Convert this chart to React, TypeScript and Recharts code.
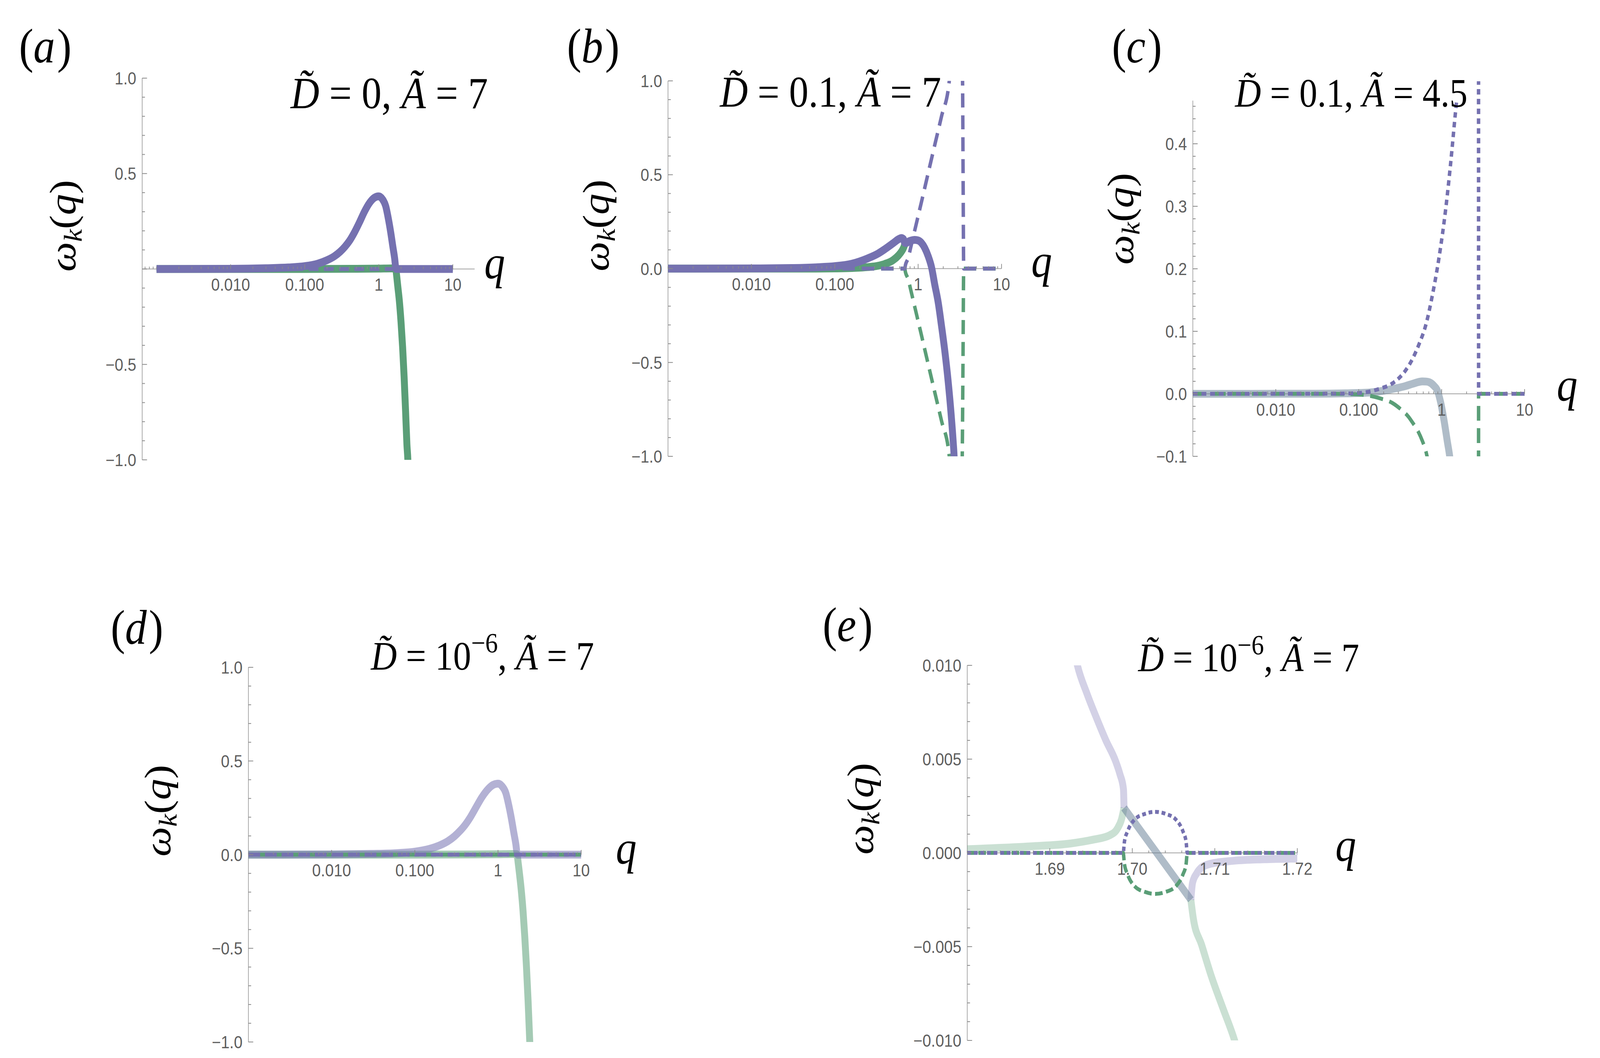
import React from "react";
import { ComposedChart, Line, XAxis, YAxis, ReferenceLine } from "recharts";

/* ---------------------------------------------------------------- */
/*  Data: [q, omega] pairs                       */
/* ---------------------------------------------------------------- */

type Row = [number, number | null];

// (a) D = 0, A = 7
const A_RE_UPPER: Row[] = [
  [0.001, 0], [0.01, 0.001], [0.03, 0.004], [0.06, 0.008], [0.1, 0.015], [0.15, 0.028],
  [0.2, 0.046], [0.25, 0.066], [0.3, 0.09], [0.35, 0.117], [0.4, 0.146], [0.47, 0.192],
  [0.55, 0.245], [0.64, 0.3], [0.75, 0.346], [0.87, 0.373], [1.0, 0.381], [1.12, 0.366],
  [1.24, 0.33], [1.35, 0.262], [1.45, 0.192], [1.55, 0.117], [1.64, 0.055], [1.7, 0.004],
  [1.73, 0], [2, 0], [5, 0], [10, 0],
];
const A_RE_LOWER: Row[] = [
  [0.001, 0], [0.1, 0], [0.5, 0.001], [1.0, 0.002], [1.5, 0.003], [1.69, 0.002],
  [1.71, -0.008], [1.75, -0.04], [1.8, -0.085], [1.9, -0.17], [2.0, -0.28], [2.1, -0.41],
  [2.2, -0.565], [2.3, -0.74], [2.4, -0.92], [2.47, -1.0], [2.55, -1.2],
];
const A_IM_UPPER: Row[] = [[0.001, 0], [10, 0]];
const A_IM_LOWER: Row[] = [[0.001, 0], [10, 0]];

// (b) D = 0.1, A = 7
const B_RE_UPPER: Row[] = [
  [0.001, 0], [0.01, 0.001], [0.03, 0.003], [0.06, 0.007], [0.1, 0.013], [0.16, 0.026],
  [0.25, 0.055], [0.33, 0.08], [0.4, 0.104], [0.5, 0.135], [0.575, 0.155], [0.63, 0.163],
  [0.665, 0.158], [0.69, 0.138], [0.72, 0.136], [0.76, 0.143], [0.83, 0.15], [0.91, 0.153],
  [1.0, 0.15], [1.1, 0.136], [1.2, 0.11], [1.32, 0.066], [1.45, 0.006], [1.58, -0.084],
  [1.74, -0.18], [1.9, -0.3], [2.09, -0.44], [2.29, -0.6], [2.47, -0.76], [2.63, -0.92],
  [2.7, -1.0], [2.75, -1.1],
];
const B_RE_LOWER: Row[] = [
  [0.001, 0], [0.05, 0], [0.1, 0.001], [0.16, 0.003], [0.25, 0.008], [0.33, 0.015],
  [0.4, 0.025], [0.5, 0.045], [0.58, 0.07], [0.64, 0.095], [0.67, 0.112], [0.685, 0.125],
  [0.69, 0.136],
];
const B_IM_UPPER: Row[] = [
  [0.001, 0], [0.69, 0], [0.705, 0.02], [0.76, 0.056], [0.817, 0.115], [0.912, 0.205],
  [1.096, 0.355], [1.318, 0.508], [1.585, 0.66], [1.905, 0.81], [2.35, 0.99], [2.45, 1.1],
  [3.36, 1.1], [3.41, 1.0], [3.46, 0.5], [3.52, 0], [4, 0], [10, 0],
];
const B_IM_LOWER: Row[] = [
  [0.001, 0], [0.69, 0], [0.705, -0.02], [0.76, -0.056], [0.817, -0.115], [0.912, -0.205],
  [1.096, -0.355], [1.318, -0.508], [1.585, -0.66], [1.905, -0.81], [2.35, -0.99], [2.45, -1.1],
  [3.34, -1.1], [3.38, -1.0], [3.45, -0.5], [3.52, 0], [4, 0], [10, 0],
];

// (c) D = 0.1, A = 4.5
const C_RE: Row[] = [
  [0.001, 0], [0.03, 0.0002], [0.07, 0.0008], [0.135, 0.002], [0.2, 0.005], [0.257, 0.0078],
  [0.37, 0.0126], [0.446, 0.016], [0.588, 0.0198], [0.65, 0.0196], [0.706, 0.0186],
  [0.81, 0.0126], [0.89, 0.005], [0.97, -0.013], [1.07, -0.043], [1.17, -0.076],
  [1.25, -0.1], [1.3, -0.12],
];
const C_IM_UPPER: Row[] = [
  [0.001, 0], [0.03, 0.0002], [0.071, 0.0005], [0.113, 0.002], [0.178, 0.008], [0.257, 0.017],
  [0.37, 0.038], [0.446, 0.056], [0.536, 0.08], [0.644, 0.11], [0.774, 0.158], [0.93, 0.218],
  [1.12, 0.296], [1.28, 0.367], [1.47, 0.451], [1.52, 0.47], [2.0, null], [2.785, 0.55],
  [2.79, 0], [10, 0],
];
const C_IM_LOWER: Row[] = [
  [0.001, 0], [0.05, 0], [0.1, -0.001], [0.178, -0.007], [0.257, -0.015], [0.33, -0.026],
  [0.4, -0.037], [0.446, -0.046], [0.52, -0.06], [0.588, -0.076], [0.64, -0.09],
  [0.68, -0.105], [2.0, null], [2.785, -0.15], [2.79, 0], [10, 0],
];

// (d) D = 1e-6, A = 7
const D_RE_UPPER: Row[] = [
  [0.001, 0], [0.01, 0.001], [0.03, 0.004], [0.06, 0.008], [0.1, 0.016], [0.15, 0.031],
  [0.2, 0.05], [0.25, 0.072], [0.3, 0.098], [0.35, 0.127], [0.4, 0.157], [0.47, 0.203],
  [0.55, 0.256], [0.64, 0.306], [0.75, 0.347], [0.87, 0.372], [1.0, 0.379], [1.12, 0.365],
  [1.24, 0.33], [1.35, 0.262], [1.45, 0.192], [1.55, 0.117], [1.64, 0.055], [1.7, 0.004],
  [1.73, 0], [2, 0], [5, 0], [10, 0],
];
const D_RE_LOWER: Row[] = [
  [0.001, 0], [0.1, 0], [0.5, 0.001], [1.0, 0.002], [1.5, 0.003], [1.69, 0.002],
  [1.71, -0.008], [1.75, -0.045], [1.8, -0.09], [1.9, -0.185], [2.0, -0.3], [2.1, -0.44],
  [2.2, -0.6], [2.3, -0.78], [2.41, -1.0], [2.5, -1.2],
];
const D_IM_UPPER: Row[] = [[0.001, 0], [10, 0]];
const D_IM_LOWER: Row[] = [[0.001, 0], [10, 0]];

// (e) D = 1e-6, A = 7, zoom near q = 1.70
const E_PURPLE_LEFT: Row[] = [
  [1.693, 0.0107], [1.69335, 0.01], [1.6945, 0.0085], [1.69566, 0.0072], [1.6968, 0.006],
  [1.69797, 0.0049], [1.6985, 0.0042], [1.69893, 0.0034], [1.699, 0.0024],
];
const E_GREEN_LEFT: Row[] = [
  [1.68, 0.0002], [1.6877, 0.00035], [1.6925, 0.0005], [1.6952, 0.0007], [1.6973, 0.00095],
  [1.6982, 0.0013], [1.6987, 0.0018], [1.699, 0.0024],
];
const E_MERGED: Row[] = [[1.699, 0.0024], [1.7071, -0.0025]];
const E_PURPLE_RIGHT: Row[] = [
  [1.7071, -0.0025], [1.7073, -0.0016], [1.7078, -0.0011], [1.7084, -0.00078],
  [1.7095, -0.00058], [1.7123, -0.00042], [1.716, -0.00034], [1.72, -0.0003],
];
const E_GREEN_RIGHT: Row[] = [
  [1.7071, -0.0025], [1.7074, -0.0035], [1.7084, -0.0049], [1.7096, -0.0066],
  [1.711, -0.0083], [1.7124, -0.01], [1.7128, -0.0106],
];
const E_IM_UPPER: Row[] = [
  [1.68, 0], [1.6989, 0], [1.69905, 0.0006], [1.69943, 0.00115], [1.70027, 0.00177],
  [1.70153, 0.00208], [1.70279, 0.00219], [1.70405, 0.00208], [1.7053, 0.00177],
  [1.70614, 0.00115], [1.70652, 0.0006], [1.70667, 0], [1.72, 0],
];
const E_IM_LOWER: Row[] = [
  [1.68, 0], [1.6989, 0], [1.69905, -0.0006], [1.69943, -0.00115], [1.70027, -0.00177],
  [1.70153, -0.00208], [1.70279, -0.00219], [1.70405, -0.00208], [1.7053, -0.00177],
  [1.70614, -0.00115], [1.70652, -0.0006], [1.70667, 0], [1.72, 0],
];

// ticks
const LOG_MAJOR = [0.01, 0.1, 1, 10];
const LOG_LABELS = ["0.010", "0.100", "1", "10"];
const LOG_DECADES = [0.0001, 0.001, 0.01, 0.1, 1, 10];
const LOG_STEPS = [1, 2, 3, 4, 5, 6, 7, 8, 9];
const UNIT_MAJOR = [-1, -0.5, 0, 0.5, 1];
const UNIT_LABELS = ["\u22121.0", "\u22120.5", "0.0", "0.5", "1.0"];
const UNIT_LABELS_NO_ZERO = ["\u22121.0", "\u22120.5", "", "0.5", "1.0"];
const C_Y_MAJOR = [-0.1, 0, 0.1, 0.2, 0.3, 0.4];
const C_Y_LABELS = ["\u22120.1", "0.0", "0.1", "0.2", "0.3", "0.4"];
const E_X_MAJOR = [1.69, 1.7, 1.71, 1.72];
const E_X_LABELS = ["1.69", "1.70", "1.71", "1.72"];
const E_Y_MAJOR = [-0.01, -0.005, 0, 0.005, 0.01];
const E_Y_LABELS = ["\u22120.010", "\u22120.005", "0.000", "0.005", "0.010"];

/* ---------------------------------------------------------------- */
/*  Styles                                                           */
/* ---------------------------------------------------------------- */

const PURPLE = "#7571B0";
const GREEN = "#5A9E77";
const AXIS = "#A2A2A2";
const TICK_TEXT = "#5E5E5E";
const SANS = "'Liberation Sans', Arial, sans-serif";
const SERIF = "'Liberation Serif', 'Times New Roman', serif";
const PAD = { top: 60, right: 60, bottom: 60, left: 230 };
const PAGE_W = 4625;
const PAGE_H = 2708;

const logMinor = LOG_DECADES.flatMap((d) => LOG_STEPS.map((s) => +(d * s).toPrecision(6)));
function stepTicks(a: number, b: number, step: number) {
  const out: number[] = [];
  const n = Math.round((b - a) / step);
  for (let i = 0; i <= n; i++) out.push(+(a + i * step).toFixed(6));
  return out;
}

type Series = {
  data: Row[];
  color: string;
  width: number;
  dash?: string;
  dashOffset?: number;
  opacity?: number;
  linear?: boolean;
};

type PanelSpec = {
  x0: number;
  x1: number;
  y0: number;
  y1: number;
  xDomain: [number, number];
  yDomain: [number, number];
  log: boolean;
  xMajor: number[];
  xLabels: string[];
  xMinor: number[];
  yMajor: number[];
  yLabels: string[];
  yMinor: number[];
  yAxisTop?: number;
  series: Series[];
};

function near(a: number, b: number) {
  return Math.abs(a - b) <= 1e-9 + Math.abs(b) * 1e-6;
}

function mergeTicks(major: number[], minor: number[], lo: number, hi: number) {
  const all = [...major, ...minor]
    .filter((v) => v >= lo - Math.abs(lo) * 1e-6 - 1e-12 && v <= hi + Math.abs(hi) * 1e-6 + 1e-12)
    .sort((a, b) => a - b);
  const out: number[] = [];
  all.forEach((v) => {
    if (!out.length || !near(v, out[out.length - 1])) out.push(v);
  });
  return out;
}

function Panel({ p }: { p: PanelSpec }) {
  const plotW = p.x1 - p.x0;
  const plotH = p.y1 - p.y0;
  const width = plotW + PAD.left + PAD.right;
  const height = plotH + PAD.top + PAD.bottom;
  const [ymin, ymax] = p.yDomain;
  const zeroY = PAD.top + (ymax / (ymax - ymin)) * plotH;
  const xTicks = mergeTicks(p.xMajor, p.xMinor, p.xDomain[0], p.xDomain[1]);
  const yTicks = mergeTicks(p.yMajor, p.yMinor, ymin, ymax);

  const xTick = (props: any) => {
    const { x, payload } = props;
    const i = p.xMajor.findIndex((m) => near(payload.value, m));
    const major = i >= 0;
    return (
      <g>
        <line x1={x} x2={x} y1={zeroY} y2={zeroY - (major ? 12 : 6)} stroke="#8A8A8A" strokeWidth={2} />
        {major && (
          <text x={x} y={zeroY + 56} textAnchor="middle" fontFamily={SANS} fontSize={45} fill={TICK_TEXT}>
            {p.xLabels[i]}
          </text>
        )}
      </g>
    );
  };

  const yTick = (props: any) => {
    const { y, payload } = props;
    const i = p.yMajor.findIndex((m) => near(payload.value, m));
    const major = i >= 0;
    return (
      <g>
        <line x1={PAD.left} x2={PAD.left + (major ? 14 : 8)} y1={y} y2={y} stroke="#8A8A8A" strokeWidth={2} />
        {major && p.yLabels[i] && (
          <text x={PAD.left - 17} y={y} dy="0.36em" textAnchor="end" fontFamily={SANS} fontSize={45} fill={TICK_TEXT}>
            {p.yLabels[i]}
          </text>
        )}
      </g>
    );
  };

  // axes are 1px wide so that Recharts still draws their ticks
  const margin = { top: PAD.top, right: PAD.right, bottom: PAD.bottom - 1, left: PAD.left - 1 };

  return (
    <div style={{ position: "absolute", left: p.x0 - PAD.left, top: p.y0 - PAD.top }}>
      <ComposedChart width={width} height={height} margin={margin}>
        <XAxis
          type="number"
          dataKey="q"
          scale={p.log ? "log" : "linear"}
          domain={p.xDomain}
          allowDataOverflow
          ticks={xTicks}
          interval={0}
          height={1}
          axisLine={false}
          tickLine={false}
          tick={xTick}
        />
        <YAxis
          type="number"
          domain={p.yDomain}
          allowDataOverflow
          ticks={yTicks}
          interval={0}
          width={1}
          tickSize={0}
          tickMargin={0}
          axisLine={false}
          tickLine={false}
          tick={yTick}
        />
        <ReferenceLine y={0} stroke={AXIS} strokeWidth={2} />
        <ReferenceLine
          segment={[
            { x: p.xDomain[0], y: ymin },
            { x: p.xDomain[0], y: p.yAxisTop ?? ymax },
          ]}
          stroke={AXIS}
          strokeWidth={2}
        />
        {p.series.map((s, i) => (
          <Line
            key={i}
            data={s.data.map(([q, w]) => ({ q, w }))}
            dataKey="w"
            type={s.linear ? "linear" : "monotone"}
            stroke={s.color}
            strokeWidth={s.width}
            strokeDasharray={s.dash}
            strokeDashoffset={s.dashOffset}
            strokeOpacity={s.opacity ?? 1}
            strokeLinecap="butt"
            strokeLinejoin="round"
            dot={false}
            activeDot={false}
            connectNulls={false}
            isAnimationActive={false}
          />
        ))}
      </ComposedChart>
    </div>
  );
}

const unitMinor = stepTicks(-1, 1, 0.1);

const PANELS: PanelSpec[] = [
  {
    x0: 411, x1: 1372, y0: 200, y1: 1177,
    xDomain: [0.00064, 19.7], yDomain: [-1, 1], log: true,
    xMajor: LOG_MAJOR, xLabels: LOG_LABELS, xMinor: logMinor,
    yMajor: UNIT_MAJOR, yLabels: UNIT_LABELS_NO_ZERO, yMinor: unitMinor,
    series: [
      { data: A_RE_LOWER, color: GREEN, width: 20 },
      { data: A_IM_LOWER, color: GREEN, width: 10, dash: "28 16" },
      { data: A_IM_UPPER, color: PURPLE, width: 10, dash: "28 16" },
      { data: A_RE_UPPER, color: PURPLE, width: 20 },
    ],
  },
  {
    x0: 1931, x1: 2895, y0: 207, y1: 1168,
    xDomain: [0.001, 10], yDomain: [-1, 1], log: true,
    xMajor: LOG_MAJOR, xLabels: LOG_LABELS, xMinor: logMinor,
    yMajor: UNIT_MAJOR, yLabels: UNIT_LABELS, yMinor: unitMinor,
    series: [
      { data: B_RE_LOWER, color: GREEN, width: 20 },
      { data: B_IM_LOWER, color: GREEN, width: 10, dash: "36 20" },
      { data: B_RE_UPPER, color: PURPLE, width: 20 },
      { data: B_IM_UPPER, color: PURPLE, width: 10, dash: "36 20" },
    ],
  },
  {
    x0: 3448, x1: 4407, y0: 208, y1: 1168,
    xDomain: [0.001, 10], yDomain: [-0.1, 0.5], log: true, yAxisTop: 0.469,
    xMajor: LOG_MAJOR, xLabels: LOG_LABELS, xMinor: logMinor,
    yMajor: C_Y_MAJOR, yLabels: C_Y_LABELS, yMinor: stepTicks(-0.1, 0.46, 0.02),
    series: [
      { data: C_RE, color: GREEN, width: 20, opacity: 0.32 },
      { data: C_RE, color: PURPLE, width: 20, opacity: 0.32 },
      { data: C_IM_LOWER, color: GREEN, width: 10, dash: "38 19" },
      { data: C_IM_UPPER, color: PURPLE, width: 10, dash: "14 11" },
    ],
  },
  {
    x0: 718, x1: 1680, y0: 1708, y1: 2667,
    xDomain: [0.001, 10], yDomain: [-1, 1], log: true,
    xMajor: LOG_MAJOR, xLabels: LOG_LABELS, xMinor: logMinor,
    yMajor: UNIT_MAJOR, yLabels: UNIT_LABELS, yMinor: unitMinor,
    series: [
      { data: D_RE_LOWER, color: GREEN, width: 20, opacity: 0.55 },
      { data: D_RE_UPPER, color: PURPLE, width: 20, opacity: 0.55 },
      { data: D_IM_LOWER, color: GREEN, width: 10, dash: "34 14", dashOffset: 20 },
      { data: D_IM_UPPER, color: PURPLE, width: 10, dash: "34 14" },
    ],
  },
  {
    x0: 2796, x1: 3750, y0: 1703, y1: 2663,
    xDomain: [1.68, 1.72], yDomain: [-0.01, 0.01], log: false,
    xMajor: E_X_MAJOR, xLabels: E_X_LABELS, xMinor: stepTicks(1.68, 1.72, 0.002),
    yMajor: E_Y_MAJOR, yLabels: E_Y_LABELS, yMinor: stepTicks(-0.01, 0.01, 0.001),
    series: [
      { data: E_GREEN_LEFT, color: GREEN, width: 20, opacity: 0.32 },
      { data: E_GREEN_RIGHT, color: GREEN, width: 20, opacity: 0.32 },
      { data: E_PURPLE_LEFT, color: PURPLE, width: 20, opacity: 0.32 },
      { data: E_PURPLE_RIGHT, color: PURPLE, width: 20, opacity: 0.32 },
      { data: E_MERGED, color: GREEN, width: 20, opacity: 0.32, linear: true },
      { data: E_MERGED, color: PURPLE, width: 20, opacity: 0.32, linear: true },
      { data: E_IM_LOWER, color: GREEN, width: 10, dash: "22 10" },
      { data: E_IM_UPPER, color: PURPLE, width: 10, dash: "11 8" },
    ],
  },
];

/* ---------------------------------------------------------------- */
/*  Text overlay                                                     */
/* ---------------------------------------------------------------- */

const PANEL_TAGS = [
  { tag: "a", x: 55, y: 160 },
  { tag: "b", x: 1639, y: 160 },
  { tag: "c", x: 3214, y: 160 },
  { tag: "d", x: 320, y: 1648 },
  { tag: "e", x: 2378, y: 1641 },
];

const TITLES = [
  { x: 840, y: 277, size: 115, d: "0", a: "7" },
  { x: 2081, y: 273, size: 112, d: "0.1", a: "7" },
  { x: 3570, y: 273, size: 104, d: "0.1", a: "4.5" },
  { x: 1072, y: 1714, size: 104, d: "sci", a: "7" },
  { x: 3290, y: 1718, size: 103, d: "sci", a: "7" },
];

// centre of each rotated axis title
const OMEGA_LABELS = [
  { x: 184, y: 578 },
  { x: 1725, y: 577 },
  { x: 3242, y: 560 },
  { x: 458, y: 2075 },
  { x: 2490, y: 2070 },
];

const Q_LABELS = [
  { x: 1400, y: 712 },
  { x: 2981, y: 708 },
  { x: 4500, y: 1025 },
  { x: 1780, y: 2210 },
  { x: 3860, y: 2203 },
];

function Title({ x, y, size, d, a }: { x: number; y: number; size: number; d: string; a: string }) {
  const eq = " = ";
  const sup = size * 0.42;
  return (
    <text x={x} y={y} fontFamily={SERIF} fontSize={size} fill="#000" style={{ whiteSpace: "pre" }}>
      <tspan fontStyle="italic">{"D\u0303"}</tspan>
      <tspan>{eq}</tspan>
      {d === "sci" ? (
        <>
          <tspan>10</tspan>
          <tspan fontSize={size * 0.7} dy={-sup}>{"\u22126"}</tspan>
          <tspan dy={sup}>{",\u00A0"}</tspan>
        </>
      ) : (
        <tspan>{d + ",\u00A0"}</tspan>
      )}
      <tspan fontStyle="italic">{"\u00C3"}</tspan>
      <tspan>{eq + a}</tspan>
    </text>
  );
}

function Overlay() {
  return (
    <svg
      width={PAGE_W}
      height={PAGE_H}
      style={{ position: "absolute", left: 0, top: 0, pointerEvents: "none" }}
    >
      {PANEL_TAGS.map((t) => (
        <text key={t.tag} x={t.x} y={t.y} fontFamily={SERIF} fontSize={125} fill="#000">
          <tspan>(</tspan>
          <tspan fontStyle="italic">{t.tag}</tspan>
          <tspan dx={6}>)</tspan>
        </text>
      ))}
      {TITLES.map((t, i) => (
        <Title key={i} {...t} />
      ))}
      {OMEGA_LABELS.map((o, i) => (
        <text
          key={i}
          transform={`translate(${o.x + 34} ${o.y}) rotate(-90)`}
          textAnchor="middle"
          fontFamily={SERIF}
          fontSize={108}
          fill="#000"
        >
          <tspan fontStyle="italic">{"\u03C9"}</tspan>
          <tspan fontStyle="italic" fontSize={74} dy={18}>k</tspan>
          <tspan dy={-18}>(</tspan>
          <tspan fontStyle="italic">q</tspan>
          <tspan>)</tspan>
        </text>
      ))}
      {Q_LABELS.map((o, i) => (
        <text key={i} x={o.x} y={o.y} fontFamily={SERIF} fontStyle="italic" fontSize={120} fill="#000">
          q
        </text>
      ))}
    </svg>
  );
}

export default function App() {
  // the figure is laid out on the reference's 4625x2708 grid and stretched to fill the window
  const iw = typeof window !== "undefined" ? window.innerWidth : PAGE_W;
  const ih = typeof window !== "undefined" ? window.innerHeight : PAGE_H;
  const sx = Math.min(1, iw / PAGE_W);
  const sy = Math.min(1, ih / PAGE_H);
  return (
    <div
      style={{
        position: "absolute",
        left: 0,
        top: 0,
        width: PAGE_W,
        height: PAGE_H,
        background: "#fff",
        overflow: "hidden",
        transform: `scale(${sx}, ${sy})`,
        transformOrigin: "0 0",
      }}
    >
      {PANELS.map((p, i) => (
        <Panel key={i} p={p} />
      ))}
      <Overlay />
    </div>
  );
}
